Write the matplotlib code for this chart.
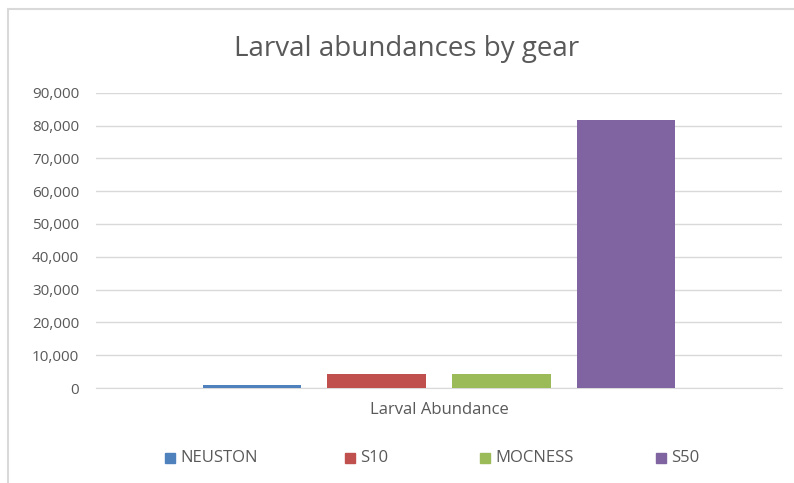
import matplotlib
matplotlib.use('Agg')
import matplotlib.pyplot as plt
from matplotlib.patches import Rectangle
from matplotlib.ticker import FuncFormatter

# data
category = 'Larval Abundance'
gears = ['NEUSTON', 'S10', 'MOCNESS', 'S50']
abundance = [800, 4400, 4400, 81800]
colors = ['#4F81BD', '#C0504D', '#9BBB59', '#8064A2']
y_ticks = list(range(0, 90001, 10000))

W, H = 794, 483
plt.rcParams['font.family'] = ['Open Sans', 'DejaVu Sans']
fig = plt.figure(figsize=(W / 100, H / 100), dpi=100)

# chart area border (cut off at right and bottom like the screenshot)
fig.patches.append(Rectangle((8 / W, -0.05), 1.1, 1 - 9 / H + 0.05, transform=fig.transFigure,
                             fill=False, edgecolor='#d9d9d9', linewidth=1.5))

ax = fig.add_axes([96 / W, (H - 388) / H, 686 / W, (388 - 92.7) / H])
step, width = 0.1818, 0.1436
for i, (g, v) in enumerate(zip(gears, abundance)):
    ax.bar((i - 1.5) * step, v, width=width, color=colors[i], label=g, zorder=3)

ax.set_xlim(-0.5, 0.5)
ax.set_ylim(0, 90000)
ax.set_yticks(y_ticks)
ax.yaxis.set_major_formatter(FuncFormatter(lambda v, p: f'{int(v):,}'))
ax.set_xticks([])
ax.grid(axis='y', color='#d9d9d9', linewidth=1, zorder=0)
for s in ['top', 'right', 'left']:
    ax.spines[s].set_visible(False)
ax.spines['bottom'].set_color('#d9d9d9')
ax.tick_params(axis='y', length=0, pad=12, labelsize=11, labelcolor='#595959')
ax.set_xlabel(category, fontsize=12, color='#595959', labelpad=10)

fig.text(407 / W, (H - 49) / H, 'Larval abundances by gear', ha='center', va='center',
         fontsize=20, color='#595959')

# legend entries laid out along the bottom
leg_x = [165, 345, 480, 656]
for x, g, c in zip(leg_x, gears, colors):
    fig.patches.append(Rectangle((x / W, (H - 463) / H), 10 / W, 10 / H,
                                 transform=fig.transFigure, color=c))
    fig.text((x + 15) / W, (H - 458) / H, g, ha='left', va='center',
             fontsize=12, color='#595959')

fig.savefig('out.png', dpi=100)
